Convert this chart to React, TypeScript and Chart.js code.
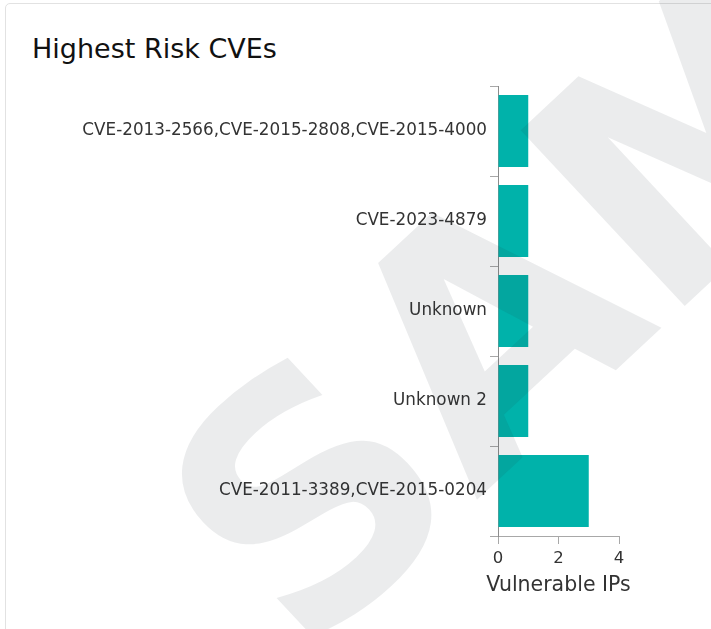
import React, { useEffect, useRef } from "react";
import { Chart, registerables } from "chart.js";

Chart.register(...registerables);

const categories = [
  "CVE-2013-2566,CVE-2015-2808,CVE-2015-4000",
  "CVE-2023-4879",
  "Unknown",
  "Unknown 2",
  "CVE-2011-3389,CVE-2015-0204",
];
const vulnerableIPs = [1, 1, 1, 1, 3];
const xMin = 0;
const xMax = 4;
const xStep = 2;
const chartTitle = "Highest Risk CVEs";
const xAxisTitle = "Vulnerable IPs";
const watermarkText = "SAMPLE";

const FONT = "'DejaVu Sans', sans-serif";
const TEXT = "#333333";
const BAR = "#00B2AA";

// Draws the x-axis title without Chart.js' maxWidth squeezing
const xTitlePlugin = {
  id: "xTitleFree",
  afterDraw(chart: any) {
    const s = chart.scales.x;
    const ctx = chart.ctx;
    ctx.save();
    ctx.font = `20.5px ${FONT}`;
    ctx.fillStyle = TEXT;
    ctx.textAlign = "center";
    ctx.textBaseline = "middle";
    ctx.fillText(xAxisTitle, (s.left + s.right) / 2, s.bottom - 13);
    ctx.restore();
  },
};

export default function App() {
  const ref = useRef<HTMLCanvasElement | null>(null);

  useEffect(() => {
    if (!ref.current) return;
    const chart = new Chart(ref.current, {
      type: "bar",
      data: {
        labels: categories,
        datasets: [
          {
            label: xAxisTitle,
            data: vulnerableIPs,
            backgroundColor: BAR,
            borderWidth: 0,
            categoryPercentage: 0.8,
            barPercentage: 1.0,
          },
        ],
      },
      plugins: [xTitlePlugin],
      options: {
        indexAxis: "y",
        animation: false,
        responsive: false,
        maintainAspectRatio: false,
        devicePixelRatio: 1,
        layout: { padding: { top: 16, right: 21, bottom: 0, left: 0 } },
        plugins: {
          legend: { display: false },
          tooltip: { enabled: false },
          title: { display: false },
        },
        scales: {
          x: {
            type: "linear",
            min: xMin,
            max: xMax,
            ticks: {
              stepSize: xStep,
              color: TEXT,
              font: { family: FONT, size: 16.5 },
              padding: 5,
            },
            grid: {
              drawOnChartArea: false,
              drawTicks: true,
              tickLength: 8,
              color: "#a8a8a8",
            },
            border: { display: true, color: "#a8a8a8" },
            title: { display: false, text: xAxisTitle },
            afterFit: (s: any) => {
              s.height = 63;
            },
          },
          y: {
            type: "category",
            ticks: {
              color: TEXT,
              font: { family: FONT, size: 16.8 },
              padding: 3,
            },
            grid: {
              drawOnChartArea: false,
              drawTicks: true,
              tickLength: 8,
              color: "#a8a8a8",
            },
            border: { display: true, color: "#8c8c8c" },
            afterFit: (s: any) => {
              s.width = 478;
            },
          },
        },
      },
    });
    return () => chart.destroy();
  }, []);

  return (
    <div
      style={{
        position: "fixed",
        left: 0,
        top: 0,
        width: 711,
        height: 629,
        overflow: "hidden",
        background: "#ffffff",
      }}
    >
      <div
        style={{
          position: "absolute",
          left: 5,
          top: 3,
          width: 760,
          height: 700,
          border: "1px solid #e2e2e2",
          borderRadius: 5,
          background: "#fff",
          boxSizing: "border-box",
        }}
      />
      <div
        style={{
          position: "absolute",
          left: 32,
          top: 35,
          fontFamily: FONT,
          fontSize: 27,
          lineHeight: 1,
          color: "#111",
          whiteSpace: "nowrap",
        }}
      >
        {chartTitle}
      </div>
      <canvas
        ref={ref}
        width={620}
        height={529}
        style={{ position: "absolute", left: 20, top: 70, width: 620, height: 529 }}
      />
      <svg
        width={711}
        height={629}
        style={{ position: "absolute", left: 0, top: 0, pointerEvents: "none" }}
      >
        <text
          x={302}
          y={663}
          transform="rotate(-43 302 663)"
          fontFamily={FONT}
          fontWeight={700}
          fontSize={330}
          fill="rgba(30,40,60,0.09)"
        >
          {watermarkText}
        </text>
      </svg>
    </div>
  );
}
